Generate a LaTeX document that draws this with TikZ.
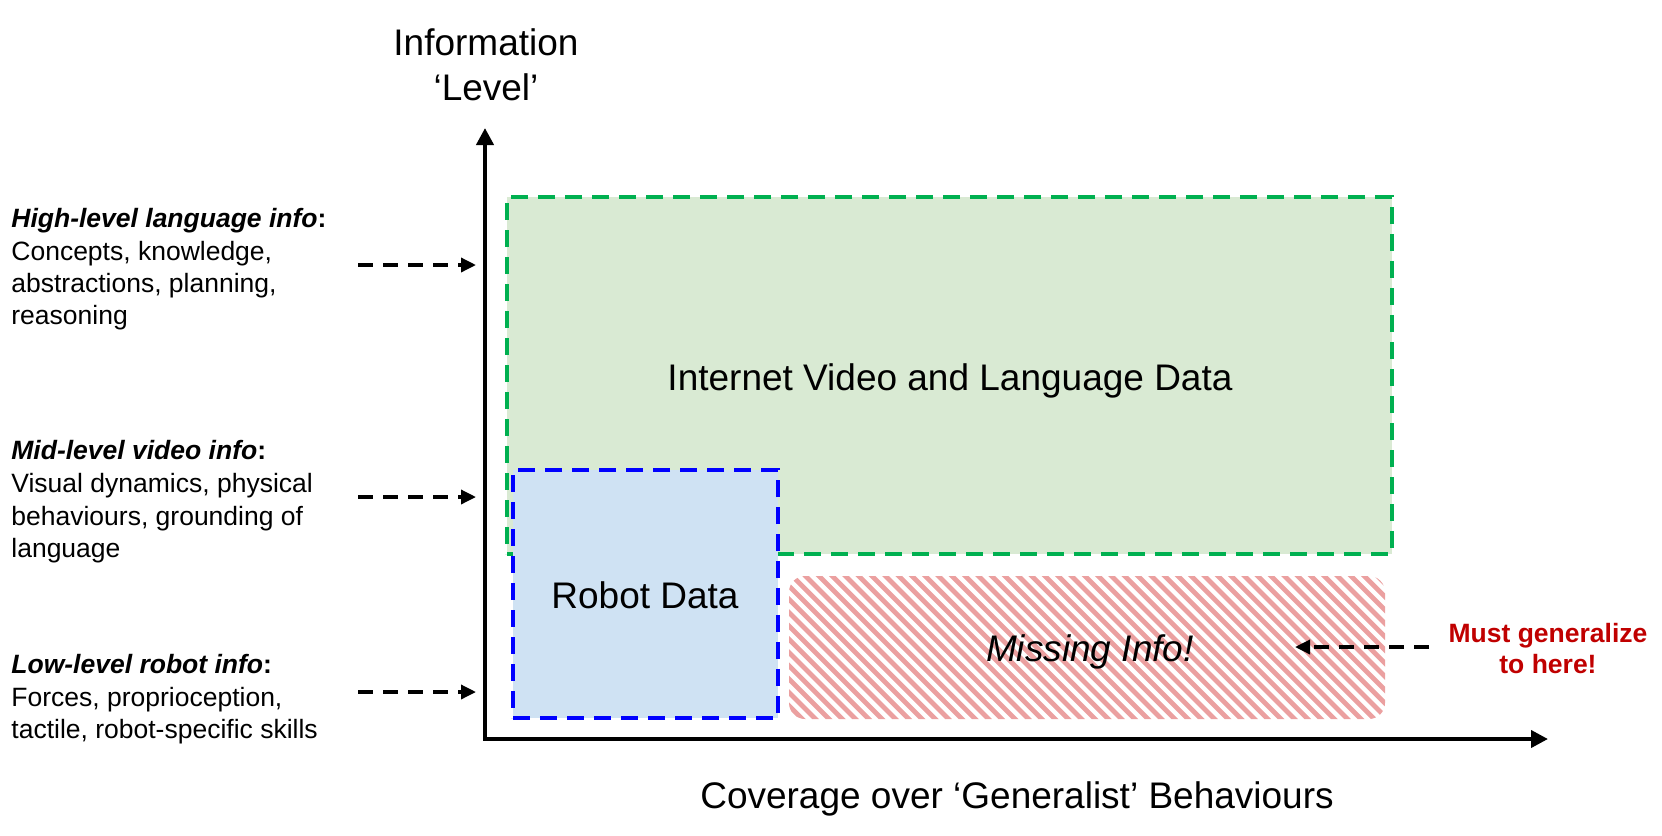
\documentclass[tikz,border=0pt]{standalone}
\usepackage{fontspec}
\setmainfont{Liberation Sans}
\usetikzlibrary{arrows.meta,fit}
\definecolor{gfill}{HTML}{D9EAD3}
\definecolor{gline}{HTML}{00B050}
\definecolor{bfill}{HTML}{CFE2F3}
\definecolor{bline}{HTML}{0000FF}
\definecolor{hatchred}{HTML}{EBA0A0}
\definecolor{mustred}{HTML}{C00000}
\begin{document}
\begin{tikzpicture}[x=0.5pt,y=-0.5pt,
  small/.style={font=\fontsize{13.25pt}{15.75pt}\selectfont, inner sep=0, anchor=base west},
  big/.style={font=\fontsize{18.5pt}{22.5pt}\selectfont, inner sep=0, anchor=base},
  databox/.style={inner sep=0, line width=2pt, dash pattern=on 8.5pt off 5pt},
  greenbox/.style={databox, draw=gline, fill=gfill},
  bluebox/.style={databox, draw=bline, fill=bfill},
  hatchline/.style={draw=hatchred, line width=2.4pt},
  hint/.style={line width=1.7pt, dash pattern=on 7.5pt off 5pt, -{Triangle[length=7.5pt,width=7pt]}},
  axis/.style={line width=2pt, {Triangle[length=8.5pt,width=8.5pt]}-{Triangle[length=8.5pt,width=8.5pt]}}
]
\useasboundingbox (0,0) rectangle (1662,836);

% boxes
\node[greenbox, fit={(507,197) (1392,554)}] (internet) {};
\node[bluebox, fit={(513,470) (778,718)}] (robot) {};

% hatched missing region
\begin{scope}
  \clip[rounded corners=8pt] (789,576) rectangle (1385,719);
  \foreach \k in {640,653.3,...,1395} {
    \draw[hatchline] (\k,570) -- ++(155,155);
  }
\end{scope}
\coordinate (missingc) at (1087,647);

% box labels
\node[big] (internetlabel) at (950,390) {Internet Video and Language Data};
\node[big] (robotlabel) at (645,608) {Robot Data};
\node[big, font=\fontsize{18.5pt}{22.5pt}\selectfont\itshape] (missinglabel) at (1090,661) {Missing Info!};

% axis titles
\node[big] (ytitle1) at (486,55) {Information};
\node[big] (ytitle2) at (486,100) {‘Level’};
\node[big] (xtitle) at (1017,808) {Coverage over ‘Generalist’ Behaviours};

% left descriptions
\node[small] (hl1) at (11,227) {\textbf{\textit{High-level language info}:}};
\node[small] (hl2) at (11,260) {Concepts, knowledge,};
\node[small] (hl3) at (11,292) {abstractions, planning,};
\node[small] (hl4) at (11,324) {reasoning};

\node[small] (ml1) at (11,459) {\textbf{\textit{Mid-level video info}:}};
\node[small] (ml2) at (11,492) {Visual dynamics, physical};
\node[small] (ml3) at (11,525) {behaviours, grounding of};
\node[small] (ml4) at (11,557) {language};

\node[small] (ll1) at (11,673) {\textbf{\textit{Low-level robot info}:}};
\node[small] (ll2) at (11,706) {Forces, proprioception,};
\node[small] (ll3) at (11,738) {tactile, robot-specific skills};

% must generalize
\node[small, anchor=base, text=mustred, font=\fontsize{13.25pt}{15.75pt}\selectfont\bfseries] (must1) at (1548,642) {Must generalize};
\node[small, anchor=base, text=mustred, font=\fontsize{13.25pt}{15.75pt}\selectfont\bfseries] (must2) at (1548,673) {to here!};

% dashed arrows
\coordinate (h0) at (358,265); \coordinate (h1) at (476,265);
\coordinate (m0) at (358,497); \coordinate (m1) at (476,497);
\coordinate (l0) at (358,692); \coordinate (l1) at (476,692);
\coordinate (g0) at (1429,647); \coordinate (g1) at (1295,647);
\draw[hint] (h0) -- (h1);
\draw[hint] (m0) -- (m1);
\draw[hint] (l0) -- (l1);
\draw[hint] (g0) -- (g1);

% axes
\coordinate (ytop) at (485,128);
\coordinate (origin) at (485,739);
\coordinate (xend) at (1548,739);
\draw[axis] (ytop) -- (origin) -- (xend);
\end{tikzpicture}
\end{document}
